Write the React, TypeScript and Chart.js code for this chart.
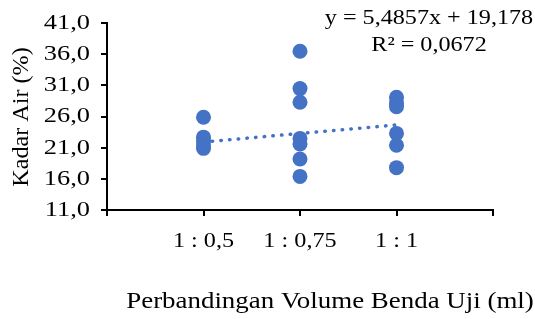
import React, { useEffect, useRef } from "react";
import { Chart, registerables } from "chart.js";

Chart.register(...registerables);

// Category labels at the x positions (ratio 1 : x)
const categoryLabels = ["1 : 0,5", "1 : 0,75", "1 : 1"];
const categoryValues = [0.5, 0.75, 1];

// Kadar air (%) per group
const group05 = [25.9, 22.7, 22.0, 21.3, 20.9];
const group075 = [36.5, 30.5, 28.3, 22.5, 21.6, 19.2, 16.4];
const group1 = [29.1, 28.2, 27.6, 23.3, 21.4, 17.8];

// Linear trendline
const trendSlope = 5.4857;
const trendIntercept = 19.178;
const trendText = "y = 5,4857x + 19,178";
const r2Text = "R² = 0,0672";

// Axis
const yMin = 11;
const yMax = 41;
const yStep = 5;
const xMin = 0.25;
const xMax = 1.25;
const xStep = 0.25;

const yTitle = "Kadar Air (%)";
const xTitle = "Perbandingan Volume Benda Uji (ml)";

const FONT = "'Liberation Serif', 'Times New Roman', serif";
const BLUE = "#4472C4";

function stretchText(ctx: any, text: string, x: number, y: number, sx: number, align: string) {
  ctx.save();
  ctx.translate(x, y);
  ctx.scale(sx, 1);
  ctx.textAlign = align;
  ctx.fillText(text, 0, 0);
  ctx.restore();
}

export default function App() {
  const ref = useRef<HTMLCanvasElement | null>(null);

  useEffect(() => {
    document.body.style.margin = "0";
    const canvas = ref.current;
    if (!canvas) return;

    const groups = [group05, group075, group1];
    const points: { x: number; y: number }[] = [];
    groups.forEach((g, i) => g.forEach((v) => points.push({ x: categoryValues[i], y: v })));

    const x0 = categoryValues[0];
    const x1 = categoryValues[categoryValues.length - 1];
    const trend = [
      { x: x0, y: trendSlope * x0 + trendIntercept },
      { x: x1, y: trendSlope * x1 + trendIntercept },
    ];

    const labelFor = (v: number) => {
      const i = categoryValues.findIndex((c) => Math.abs(c - v) < 1e-6);
      return i >= 0 ? categoryLabels[i] : "";
    };
    const yLabel = (v: number) => Number(v).toFixed(1).replace(".", ",");

    const textPlugin = {
      id: "texts",
      afterDraw(chart: any) {
        const ctx = chart.ctx;
        ctx.save();
        ctx.fillStyle = "#000";
        ctx.textBaseline = "middle";

        // tick labels
        ctx.font = `22px ${FONT}`;
        const ys = chart.scales.y;
        ys.ticks.forEach((t: any) => {
          stretchText(ctx, yLabel(t.value), 90, ys.getPixelForValue(t.value), 1.2, "right");
        });
        const xs = chart.scales.x;
        xs.ticks.forEach((t: any) => {
          const s = labelFor(t.value);
          if (s) stretchText(ctx, s, xs.getPixelForValue(t.value), 241, 1.1, "center");
        });

        // titles
        ctx.font = `23px ${FONT}`;
        stretchText(ctx, xTitle, 330, 302, 1.17, "center");
        ctx.save();
        ctx.translate(22, 117);
        ctx.rotate(-Math.PI / 2);
        stretchText(ctx, yTitle, 0, 0, 1.05, "center");
        ctx.restore();

        // trendline equation
        ctx.font = `21px ${FONT}`;
        stretchText(ctx, trendText, 429, 18, 1.15, "center");
        stretchText(ctx, r2Text, 429, 45, 1.15, "center");
        ctx.restore();
      },
    };

    const chart = new Chart(canvas, {
      type: "scatter",
      data: {
        datasets: [
          {
            type: "line",
            data: trend,
            borderColor: BLUE,
            borderWidth: 3.5,
            borderDash: [0.5, 8.2],
            borderCapStyle: "round",
            pointRadius: 0,
            fill: false,
          } as any,
          {
            data: points,
            backgroundColor: BLUE,
            borderColor: BLUE,
            pointRadius: 7.5,
            borderWidth: 0,
          },
        ],
      },
      options: {
        responsive: false,
        animation: false,
        devicePixelRatio: 1,
        layout: { padding: { top: 20, right: 42, left: 0, bottom: 0 } },
        plugins: { legend: { display: false }, tooltip: { enabled: false } },
        scales: {
          x: {
            type: "linear",
            min: xMin,
            max: xMax,
            afterFit: (s: any) => {
              s.height = 109;
            },
            ticks: {
              stepSize: xStep,
              padding: 14,
              color: "rgba(0,0,0,0)",
              font: { family: FONT, size: 22 },
              maxRotation: 0,
              callback: (v: any) => labelFor(Number(v)),
            },
            grid: { drawOnChartArea: false, color: "#000", lineWidth: 2, tickLength: 6 },
            border: { color: "#000", width: 2 },
          },
          y: {
            min: yMin,
            max: yMax,
            afterFit: (s: any) => {
              s.width = 107;
            },
            ticks: {
              stepSize: yStep,
              padding: 10,
              color: "rgba(0,0,0,0)",
              font: { family: FONT, size: 22 },
              callback: (v: any) => yLabel(Number(v)),
            },
            grid: { drawOnChartArea: false, color: "#000", lineWidth: 2, tickLength: 6 },
            border: { color: "#000", width: 2 },
          },
        },
      },
      plugins: [textPlugin],
    });

    return () => chart.destroy();
  }, []);

  return <canvas ref={ref} width={535} height={319} style={{ display: "block" }} />;
}
